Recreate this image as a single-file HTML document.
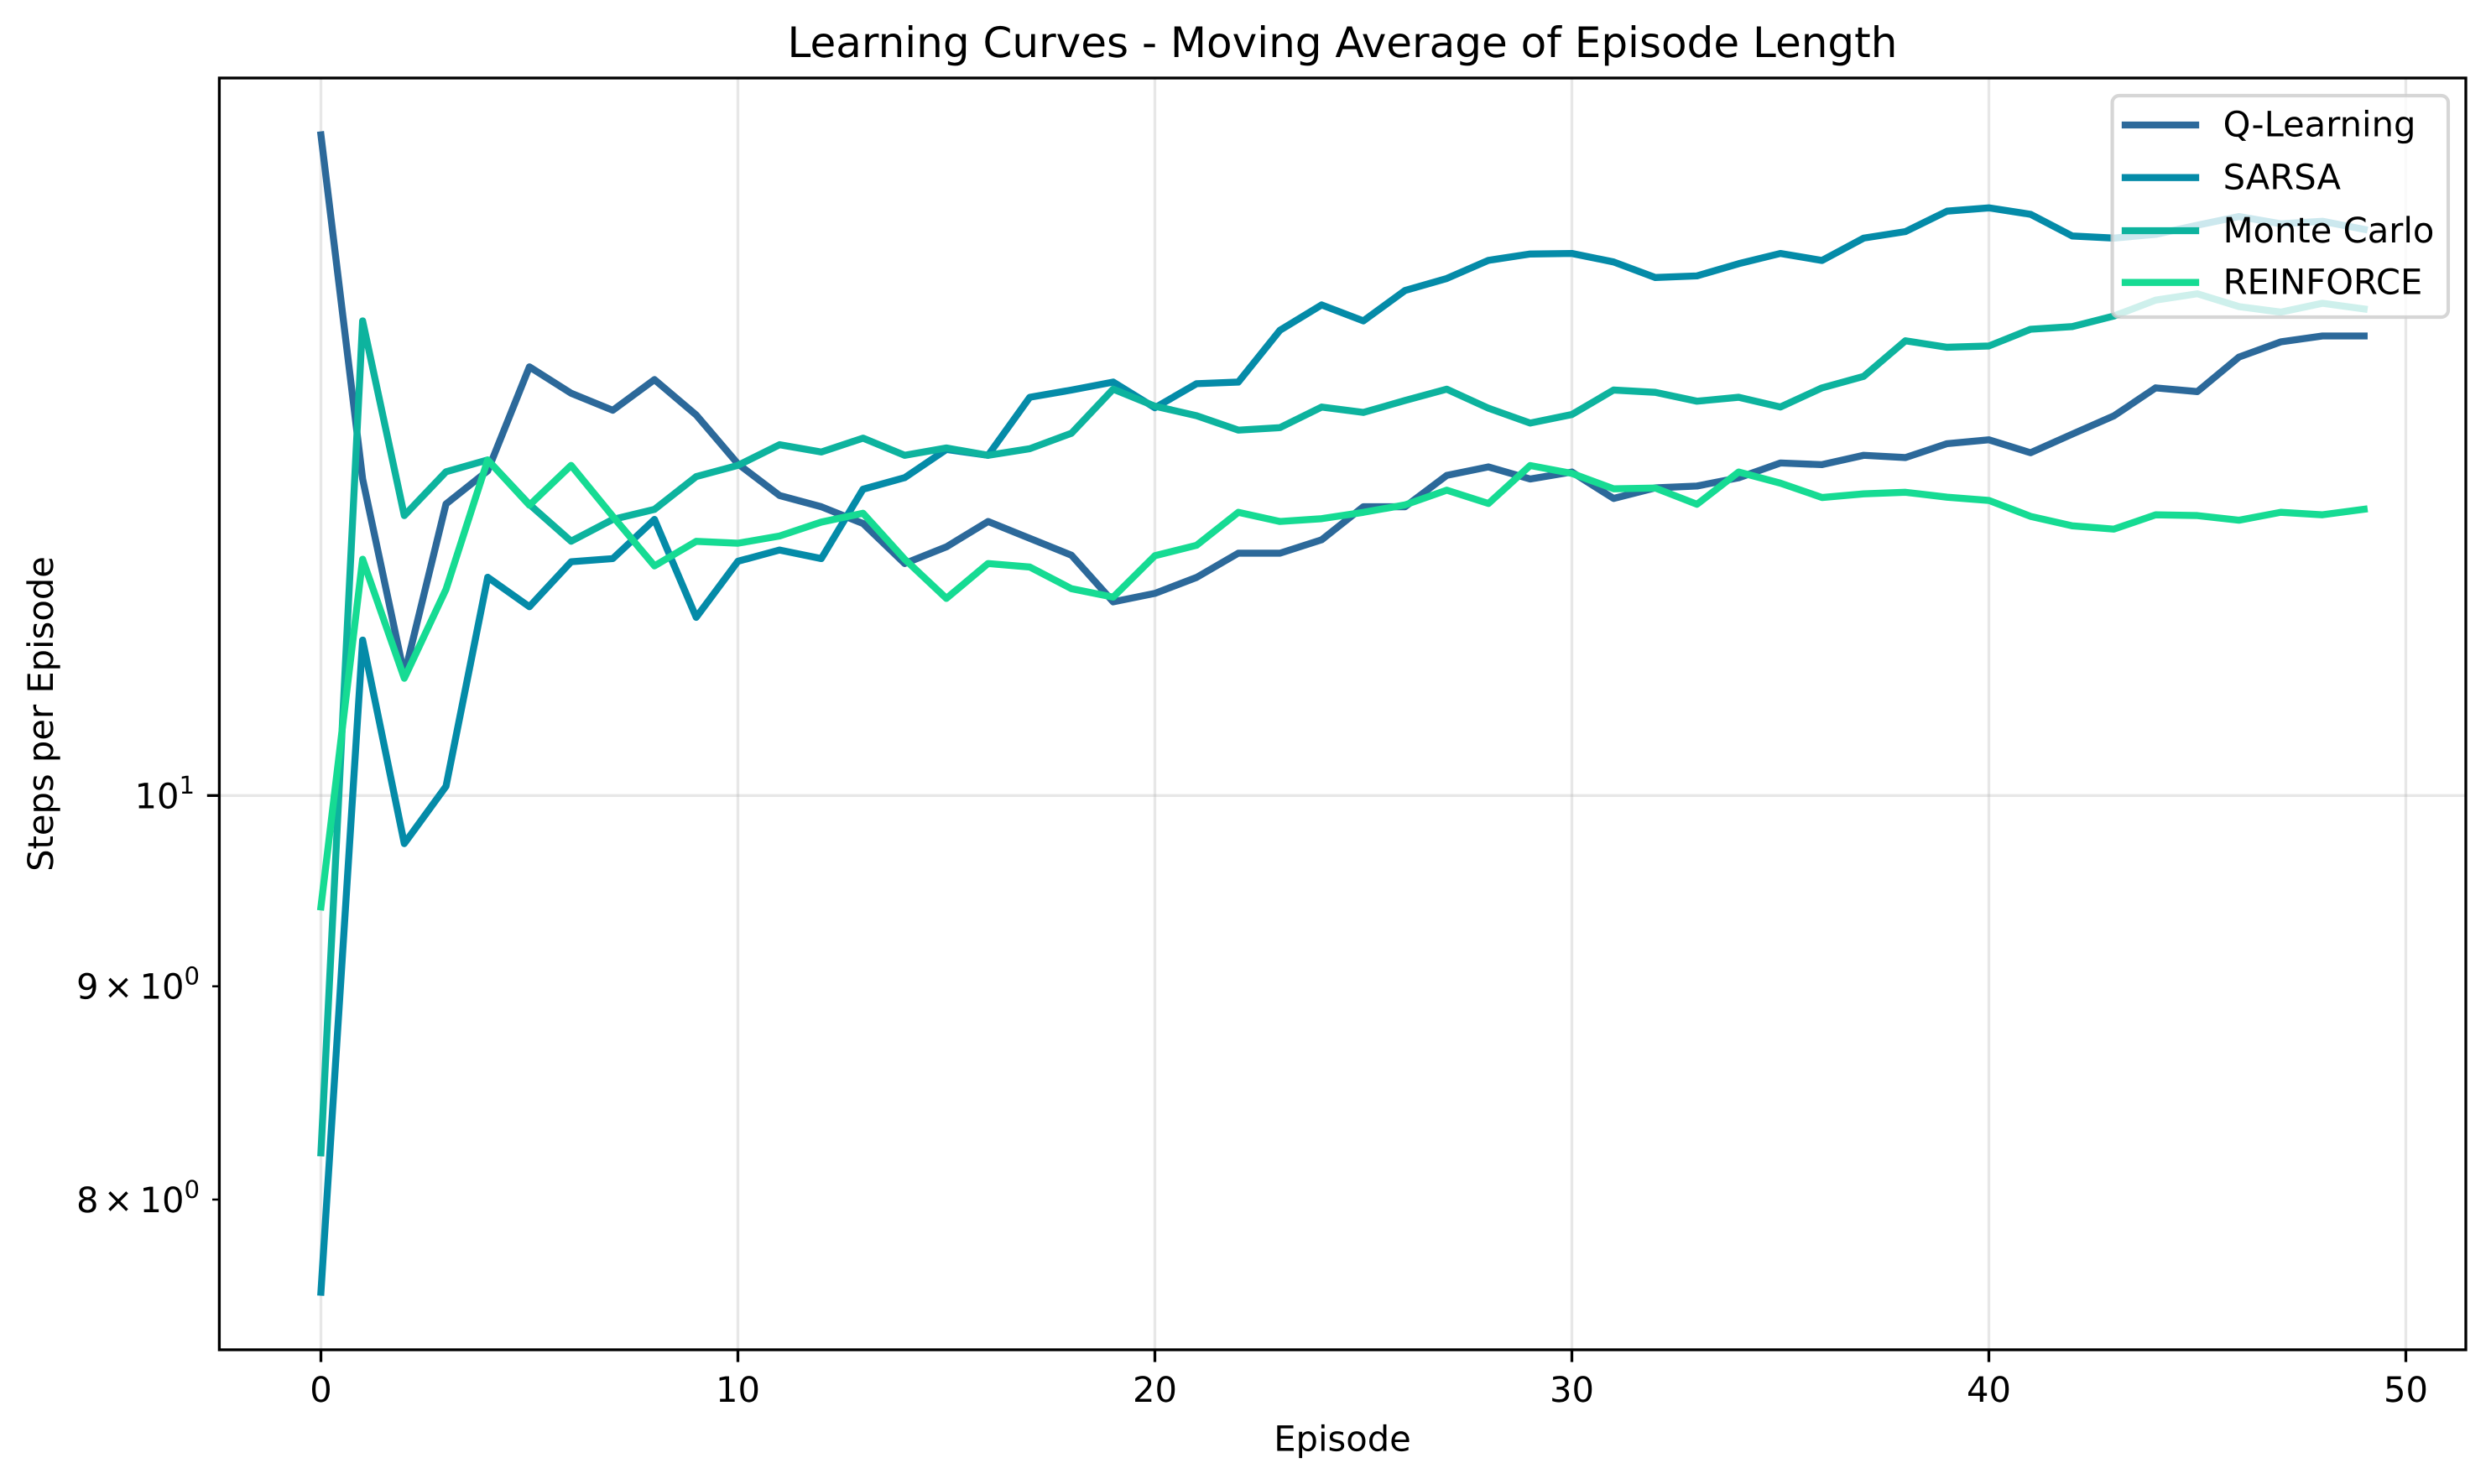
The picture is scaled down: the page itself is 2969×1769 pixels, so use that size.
<!DOCTYPE html>
<html lang="en">
<head>
<meta charset="utf-8">
<title>Learning Curves - Moving Average of Episode Length</title>
<style>
html,body{margin:0;padding:0;background:#fff;}
svg{display:block;}
text{font-family:"DejaVu Sans","Liberation Sans",sans-serif;fill:#000;text-rendering:geometricPrecision;}
</style>
</head>
<body>
<svg id="chart" xmlns="http://www.w3.org/2000/svg" width="2969" height="1769" viewBox="0 0 2969 1769">
  <defs>
    <clipPath id="plot-clip"><rect x="261.4" y="93" width="2677.6" height="1516"/></clipPath>
  </defs>
  <rect x="0" y="0" width="2969" height="1769" fill="#ffffff"/>
  <g id="grid"></g>
  <g id="series" clip-path="url(#plot-clip)"></g>
  <rect x="261.4" y="93" width="2677.6" height="1516" fill="none" stroke="#000" stroke-width="3.33"/>
  <g id="ticks"></g>
  <text x="1600" y="68" font-size="50" text-anchor="middle">Learning Curves - Moving Average of Episode Length</text>
  <text x="1600" y="1729.3" font-size="41.67" text-anchor="middle">Episode</text>
  <text x="0" y="0" font-size="41.67" text-anchor="middle" transform="translate(63 851) rotate(-90)">Steps per Episode</text>
  <g id="legend">
    <rect x="2517.6" y="114" width="400.4" height="264" rx="8.3" ry="8.3" fill="#ffffff" fill-opacity="0.8" stroke="#cccccc" stroke-opacity="0.8" stroke-width="4.17"/>
    <line x1="2533" x2="2617" y1="149" y2="149" stroke="#2c699a" stroke-width="8.33" stroke-linecap="square"/>
    <text x="2649.6" y="162.7" font-size="41.67">Q-Learning</text>
    <line x1="2533" x2="2617" y1="211.7" y2="211.7" stroke="#048ba8" stroke-width="8.33" stroke-linecap="square"/>
    <text x="2649.6" y="225.7" font-size="41.67">SARSA</text>
    <line x1="2533" x2="2617" y1="275" y2="275" stroke="#0db39e" stroke-width="8.33" stroke-linecap="square"/>
    <text x="2649.6" y="289" font-size="41.67">Monte Carlo</text>
    <line x1="2533" x2="2617" y1="336.7" y2="336.7" stroke="#16db93" stroke-width="8.33" stroke-linecap="square"/>
    <text x="2649.6" y="350.7" font-size="41.67">REINFORCE</text>
  </g>
</svg>
<script>
const xTicks = [0, 10, 20, 30, 40, 50];
const yMajorTicks = [10];
const yMinorTicks = [8, 9];
const qLearning = [14.403,11.911,10.688,11.747,11.964,12.671,12.488,12.371,12.582,12.339,12.010,11.802,11.729,11.621,11.367,11.472,11.634,11.526,11.419,11.129,11.181,11.280,11.432,11.432,11.517,11.729,11.729,11.934,11.990,11.910,11.956,11.783,11.852,11.864,11.918,12.016,12.005,12.067,12.052,12.145,12.171,12.084,12.209,12.333,12.525,12.499,12.740,12.847,12.889,12.889];
const sarsa = [7.601,10.896,9.738,10.051,11.281,11.099,11.378,11.398,11.647,11.034,11.381,11.452,11.398,11.843,11.919,12.106,12.067,12.460,12.510,12.565,12.388,12.554,12.565,12.930,13.112,12.997,13.217,13.305,13.439,13.486,13.490,13.427,13.312,13.324,13.414,13.490,13.438,13.605,13.654,13.809,13.834,13.785,13.621,13.605,13.633,13.702,13.768,13.713,13.732,13.671];
const monteCarlo = [8.209,12.997,11.672,11.958,12.036,11.744,11.508,11.647,11.712,11.926,12.000,12.138,12.089,12.182,12.067,12.116,12.067,12.111,12.215,12.516,12.399,12.334,12.236,12.253,12.393,12.356,12.438,12.516,12.385,12.284,12.342,12.510,12.494,12.433,12.460,12.393,12.525,12.605,12.855,12.809,12.818,12.937,12.956,13.032,13.147,13.193,13.100,13.060,13.124,13.083];
const reinforce = [9.403,11.394,10.669,11.206,12.036,11.739,12.000,11.667,11.352,11.507,11.495,11.541,11.630,11.687,11.394,11.150,11.367,11.345,11.210,11.158,11.416,11.482,11.693,11.634,11.652,11.693,11.741,11.837,11.750,11.999,11.947,11.846,11.851,11.745,11.956,11.883,11.789,11.813,11.823,11.791,11.770,11.667,11.606,11.585,11.677,11.672,11.642,11.693,11.677,11.713];

const SVG_NS = 'http://www.w3.org/2000/svg';
function xScale(e) { return 382.5 + 49.7 * e; }
function yScale(v) { return 948.3 - 4970 * Math.log10(v / 10); }
function make(tag, attrs, parent) {
  const el = document.createElementNS(SVG_NS, tag);
  Object.keys(attrs).forEach(function (k) { el.setAttribute(k, attrs[k]); });
  parent.appendChild(el);
  return el;
}
const gridG = document.getElementById('grid');
const seriesG = document.getElementById('series');
const ticksG = document.getElementById('ticks');
const GRID = {stroke: '#b0b0b0', 'stroke-opacity': 0.3, 'stroke-width': 3.33};

xTicks.forEach(function (t) {
  const x = xScale(t);
  const g = make('line', Object.assign({x1: x, x2: x, y1: 93, y2: 1609}, GRID), gridG);
  
  
  const m = make('line', {x1: x, x2: x, y1: 1609, y2: 1623.6, stroke: '#000', 'stroke-width': 3.33}, ticksG);
  
  
  const l = make('text', {x: x, y: 1670.8, 'font-size': 41.67, 'text-anchor': 'middle'}, ticksG);
  l.textContent = String(t);
  
  
});

yMajorTicks.forEach(function (t) {
  const y = yScale(t);
  const g = make('line', Object.assign({x1: 261.4, x2: 2939, y1: y, y2: y}, GRID), gridG);
  
  
  const m = make('line', {x1: 261.4, x2: 246.8, y1: y, y2: y, stroke: '#000', 'stroke-width': 3.33}, ticksG);
  
  
  const l = make('text', {x: 160.5, y: y + 15.3, 'font-size': 41.67}, ticksG);
  l.textContent = String(t);
  
  
  const s = make('text', {x: 213.5, y: y - 2.3, 'font-size': 29.17}, ticksG);
  s.textContent = '1';
  
  
});

yMinorTicks.forEach(function (t) {
  const y = yScale(t);
  const m = make('line', {x1: 261.4, x2: 253, y1: y, y2: y, stroke: '#000', 'stroke-width': 2.5}, ticksG);
  
  
  const d = make('text', {x: 91, y: y + 15, 'font-size': 41.67}, ticksG);
  d.textContent = String(t);
  
  
  const c = make('text', {x: 141, y: y + 15, 'font-size': 41.67, 'text-anchor': 'middle'}, ticksG);
  c.textContent = '\u00d7';
  
  
  const b = make('text', {x: 166.5, y: y + 15, 'font-size': 41.67}, ticksG);
  b.textContent = '10';
  
  
  const s = make('text', {x: 219.5, y: y - 2, 'font-size': 29.17}, ticksG);
  s.textContent = '0';
  
  
});

function drawSeries(values, color) {
  const pts = values.map(function (v, i) { return xScale(i).toFixed(2) + ',' + yScale(v).toFixed(2); }).join(' ');
  return make('polyline', {points: pts, fill: 'none', stroke: color, 'stroke-width': 8.33, 'stroke-linejoin': 'round', 'stroke-linecap': 'square'}, seriesG);
}
const lineQ = drawSeries(qLearning, '#2c699a');


const lineS = drawSeries(sarsa, '#048ba8');


const lineM = drawSeries(monteCarlo, '#0db39e');


const lineR = drawSeries(reinforce, '#16db93');


</script>
</body>
</html>
